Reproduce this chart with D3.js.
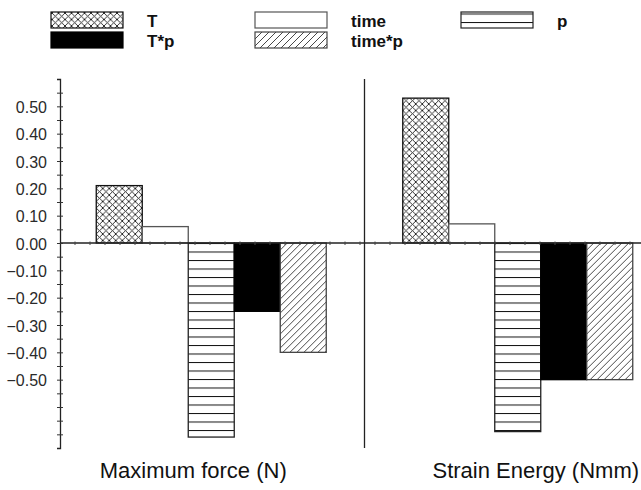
<!DOCTYPE html>
<html>
<head>
<meta charset="utf-8">
<script src="https://cdn.jsdelivr.net/npm/d3@7"></script>
<style>
  body { margin: 0; background: #fff; }
  svg { display: block; font-family: "Liberation Sans", Arial, sans-serif; }
</style>
</head>
<body>
<svg id="chart" width="641" height="490"></svg>
<script>
// Chart data
const categories = ["Maximum force (N)", "Strain Energy (Nmm)"];
const series = ["T", "time", "p", "T*p", "time*p"];
const forceValues = [0.21, 0.06, -0.71, -0.25, -0.40];
const energyValues = [0.53, 0.07, -0.69, -0.50, -0.50];
const tickLabels = [0.50, 0.40, 0.30, 0.20, 0.10, 0.00, -0.10, -0.20, -0.30, -0.40, -0.50];

const svg = d3.select("#chart"),
    width = +svg.attr("width"),
    height = +svg.attr("height");

const axisX = 60;

// Scales
const y = d3.scaleLinear().domain([-0.75, 0.60]).range([448, 79]);
const x0 = d3.scaleBand().domain(categories).range([58, 671]);
const x1 = d3.scaleBand().domain(series).range([0, 230]);

// Patterns
const defs = svg.append("defs");

const cross = defs.append("pattern")
    .attr("id", "pat-cross")
    .attr("patternUnits", "userSpaceOnUse")
    .attr("width", 6.5).attr("height", 6.5);
cross.append("rect").attr("width", 6.5).attr("height", 6.5).attr("fill", "#fff");
cross.append("path")
    .attr("d", "M0,0L6.5,6.5M6.5,0L0,6.5")
    .attr("stroke", "#1a1a1a").attr("stroke-width", 0.9);

const hatch = defs.append("pattern")
    .attr("id", "pat-hatch")
    .attr("patternUnits", "userSpaceOnUse")
    .attr("width", 7).attr("height", 7);
hatch.append("rect").attr("width", 7).attr("height", 7).attr("fill", "#fff");
hatch.append("path")
    .attr("d", "M0,7L7,0M-1,1L1,-1M6,8L8,6")
    .attr("stroke", "#333").attr("stroke-width", 0.9);

const horiz = defs.append("pattern")
    .attr("id", "pat-horiz")
    .attr("patternUnits", "userSpaceOnUse")
    .attr("y", y(0))
    .attr("width", 8).attr("height", 8.5);
horiz.append("rect").attr("width", 8).attr("height", 8.5).attr("fill", "#fff");
horiz.append("line")
    .attr("x1", 0).attr("x2", 8).attr("y1", 0.5).attr("y2", 0.5)
    .attr("stroke", "#111").attr("stroke-width", 1);

const fills = {
    "T": "url(#pat-cross)",
    "time": "#fff",
    "p": "url(#pat-horiz)",
    "T*p": "#000",
    "time*p": "url(#pat-hatch)"
};
const strokes = {
    "T": "#111",
    "time": "#555",
    "p": "#222",
    "T*p": "#000",
    "time*p": "#444"
};

// Legend
const legendCols = [51, 255, 461];
const legendRows = [12, 32];
const legend = svg.append("g");
series.forEach((s, i) => {
    const lx = legendCols[i % 3];
    const ly = legendRows[Math.floor(i / 3)];
    legend.append("rect")
        .attr("x", lx).attr("y", ly)
        .attr("width", 72).attr("height", 16)
        .attr("fill", fills[s])
        .attr("stroke", strokes[s])
        .attr("stroke-width", 1.2);
    legend.append("text")
        .attr("x", lx + 96)
        .attr("y", ly + 15)
        .attr("font-size", 17)
        .attr("font-weight", "bold")
        .attr("fill", "#111")
        .text(s);
});

// Bars
const data = categories.map((c, i) => ({
    category: c,
    values: series.map((s, j) => ({ key: s, value: [forceValues, energyValues][i][j] }))
}));

const offset = (x0.bandwidth() - 230) / 2;

svg.append("g")
    .selectAll("g")
    .data(data)
    .enter()
    .append("g")
    .attr("transform", d => `translate(${x0(d.category) + offset},0)`)
    .selectAll("rect")
    .data(d => d.values)
    .enter()
    .append("rect")
    .attr("x", d => x1(d.key))
    .attr("width", x1.bandwidth())
    .attr("y", d => y(Math.max(0, d.value)))
    .attr("height", d => Math.abs(y(d.value) - y(0)))
    .attr("fill", d => fills[d.key])
    .attr("stroke", d => strokes[d.key])
    .attr("stroke-width", 1.3);

// Zero line with small ticks
svg.append("line")
    .attr("x1", axisX).attr("x2", width)
    .attr("y1", y(0)).attr("y2", y(0))
    .attr("stroke", "#222").attr("stroke-width", 1.3);
svg.append("g")
    .selectAll("line")
    .data(d3.range(axisX + 15, width, 15))
    .enter()
    .append("line")
    .attr("x1", d => d).attr("x2", d => d)
    .attr("y1", y(0) - 1.5).attr("y2", y(0) + 2)
    .attr("stroke", "#444").attr("stroke-width", 1);

// Divider between groups
svg.append("line")
    .attr("x1", x0(categories[1])).attr("x2", x0(categories[1]))
    .attr("y1", y(0.60)).attr("y2", y(-0.75))
    .attr("stroke", "#222").attr("stroke-width", 1.3);

// Y axis
const yAxis = d3.axisLeft(y)
    .tickValues(d3.range(-14, 12).map(k => k * 0.05))
    .tickSize(3)
    .tickFormat("");
const yg = svg.append("g")
    .attr("transform", `translate(${axisX},0)`)
    .call(yAxis);
yg.select(".domain").attr("stroke", "#222").attr("stroke-width", 1.3);
yg.selectAll(".tick line").attr("x2", 3).attr("x1", -3).attr("stroke", "#333");

svg.append("g")
    .selectAll("text")
    .data(tickLabels)
    .enter()
    .append("text")
    .attr("x", 47)
    .attr("y", d => y(d) + 1)
    .attr("dy", "0.35em")
    .attr("text-anchor", "end")
    .attr("font-size", 16)
    .attr("fill", "#2a2a2a")
    .text(d => d3.format(".2f")(d));

// Category labels
const labelShift = [-18, 18];
svg.append("g")
    .selectAll("text")
    .data(categories)
    .enter()
    .append("text")
    .attr("x", (d, i) => x0(d) + x0.bandwidth() / 2 + labelShift[i])
    .attr("y", 478)
    .attr("text-anchor", "middle")
    .attr("font-size", 22)
    .attr("fill", "#111")
    .text(d => d);
</script>
</body>
</html>
